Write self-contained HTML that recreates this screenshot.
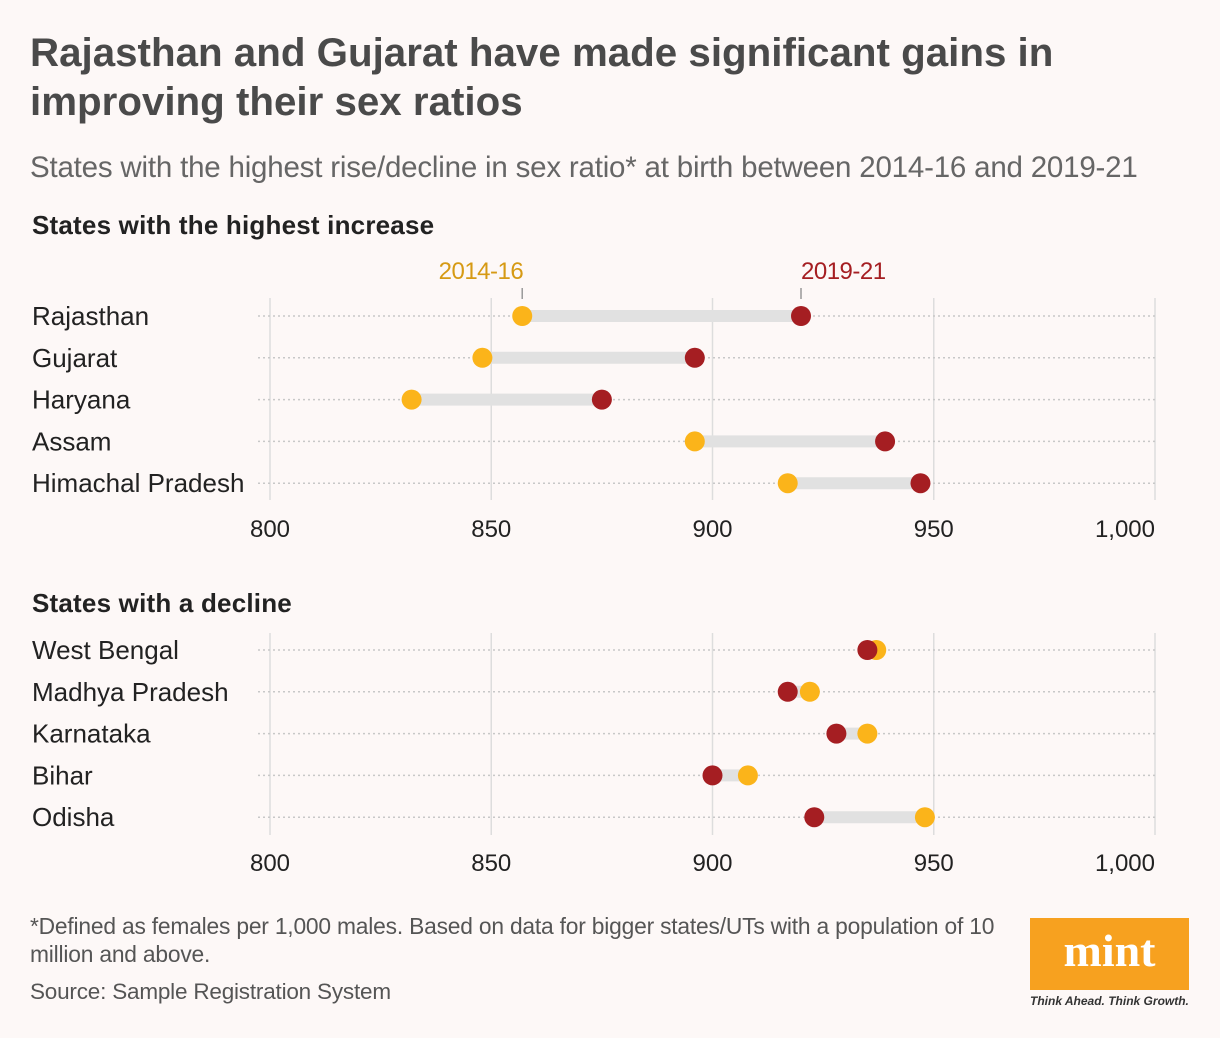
<!DOCTYPE html>
<html><head><meta charset="utf-8"><style>
body{margin:0;background:#fdf8f7;font-family:"Liberation Sans",sans-serif;}
#wrap{position:relative;width:1220px;height:1038px;overflow:hidden;}
.t{position:absolute;white-space:nowrap;}
</style></head><body>
<div id="wrap">
<div class="t" style="left:30px;top:28px;font-size:40.3px;font-weight:bold;color:#4a4a4a;line-height:49px;letter-spacing:0px">Rajasthan and Gujarat have made significant gains in<br>improving their sex ratios</div>
<div class="t" style="left:30px;top:151px;font-size:29.5px;color:#666;letter-spacing:-0.2px">States with the highest rise/decline in sex ratio* at birth between 2014-16 and 2019-21</div>
<div class="t" style="left:32px;top:210px;font-size:26px;font-weight:bold;color:#222;letter-spacing:0.2px">States with the highest increase</div>
<div class="t" style="left:32px;top:588px;font-size:26px;font-weight:bold;color:#222;letter-spacing:0.2px">States with a decline</div>
<svg id="svg" width="1220" height="1038" style="position:absolute;left:0;top:0"></svg>
<div class="t" style="left:30px;top:912px;font-size:22.8px;color:#555;line-height:28px;letter-spacing:-0.2px">*Defined as females per 1,000 males. Based on data for bigger states/UTs with a population of 10<br>million and above.</div>
<div class="t" style="left:30px;top:979px;font-size:22.5px;color:#555;letter-spacing:-0.2px">Source: Sample Registration System</div>
<div style="position:absolute;left:1030px;top:918px;width:159px;height:72px;background:#f7a11f;color:#fff;font-family:'Liberation Serif',serif;font-weight:bold;font-size:46px;text-align:center;line-height:66px">mint</div>
<div class="t" style="left:1030px;top:994px;font-size:12px;font-style:italic;font-weight:bold;color:#333">Think Ahead. Think Growth.</div>
</div>
<script>
const incStates=["Rajasthan","Gujarat","Haryana","Assam","Himachal Pradesh"];
const inc2014=[857,848,832,896,917];
const inc2019=[920,896,875,939,947];
const decStates=["West Bengal","Madhya Pradesh","Karnataka","Bihar","Odisha"];
const dec2014=[937,922,935,908,948];
const dec2019=[935,917,928,900,923];
const ticks=[800,850,900,950,1000];
const tickLabels=["800","850","900","950","1,000"];
const NS="http://www.w3.org/2000/svg";
const svg=document.getElementById('svg');
const x=v=>270+(v-800)*(1155-270)/200;
function mk(t,a,p){const e=document.createElementNS(NS,t);for(const k in a)e.setAttribute(k,a[k]);(p||svg).appendChild(e);return e;}
function panel(states,a,b,y0,gTop,gBot,tickY,nm){
  const g=mk('g',{});
  
  
  ticks.forEach((t,i)=>{
    const l=mk('line',{x1:x(t),x2:x(t),y1:gTop,y2:gBot,stroke:'#dddddd','stroke-width':1.5},g);
    
    
    const last=i===ticks.length-1;
    const tx=mk('text',{x:x(t),y:tickY,'text-anchor':last?'end':'middle','font-size':24,fill:'#222','font-family':'Liberation Sans, sans-serif'},g);
    tx.textContent=tickLabels[i];
    
    
  });
  states.forEach((s,i)=>{
    const y=y0+i*41.8;
    const lab=mk('text',{x:32,y:y+9,'font-size':26,fill:'#222','font-family':'Liberation Sans, sans-serif'},g);
    lab.textContent=s;
    
    
    const d=mk('line',{x1:258,x2:1155,y1:y,y2:y,stroke:'#c8c8c8','stroke-width':1.5,'stroke-dasharray':'2 3'},g);
    
    
    const bar=mk('line',{x1:x(a[i]),x2:x(b[i]),y1:y,y2:y,stroke:'#e1e1e1','stroke-width':12},g);
    
    
    const c1=mk('circle',{cx:x(a[i]),cy:y,r:10,fill:'#fbb41a'},g);
    
    
    const c2=mk('circle',{cx:x(b[i]),cy:y,r:10,fill:'#a51e22'},g);
    
    
  });
}
panel(incStates,inc2014,inc2019,316,298,500,537,'increase');
panel(decStates,dec2014,dec2019,650,633,835,871,'decline');
const l1=mk('text',{x:x(inc2014[0])+1,y:279,'text-anchor':'end','font-size':24,fill:'#d69a14','font-family':'Liberation Sans, sans-serif','letter-spacing':'-0.5'});
l1.textContent='2014-16';


const l2=mk('text',{x:x(inc2019[0]),y:279,'text-anchor':'start','font-size':24,fill:'#a51e22','font-family':'Liberation Sans, sans-serif','letter-spacing':'-0.5'});
l2.textContent='2019-21';


[inc2014[0],inc2019[0]].forEach(v=>{
  const t=mk('line',{x1:x(v),x2:x(v),y1:288,y2:299,stroke:'#999','stroke-width':1.5});
  
  
});
</script>
</body></html>
